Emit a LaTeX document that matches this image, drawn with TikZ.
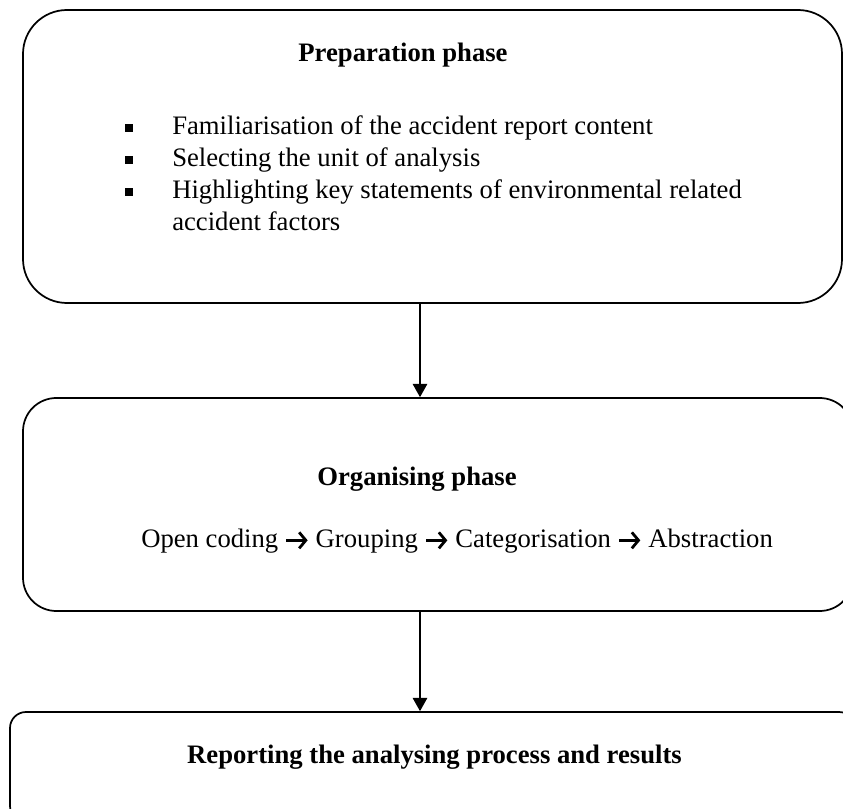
\documentclass[tikz,border=0pt]{standalone}
\usepackage{fontspec}
\setmainfont{Liberation Serif}
\usetikzlibrary{arrows.meta}
\tikzset{
  box/.style={draw, line width=1.3pt, inner sep=0pt},
  txt/.style={anchor=base west, inner sep=0pt, font=\fontsize{20}{24}\selectfont},
  btxt/.style={anchor=base, inner sep=0pt, font=\fontsize{20}{24}\selectfont\bfseries},
  bul/.style={fill, minimum size=6pt, inner sep=0pt},
  flow/.style={line width=0.8pt, -{Triangle[width=11pt,length=10pt]}}
}
\newcommand{\arr}{\tikz[baseline=-5pt,x=1pt,y=1pt]\draw[line width=2.1pt,line cap=butt,-{Straight Barb[length=5pt,width=12pt,line width=2.1pt]}] (0,0)--(16,0);}
\begin{document}
\begin{tikzpicture}[x=0.75pt,y=-0.75pt]
\useasboundingbox (0,0) rectangle (843,809);
\clip (0,0) rectangle (843,809);
% boxes
\node[box, rounded corners=33pt, minimum width=819*0.75pt, minimum height=293*0.75pt] (b1) at (432.5,156.5) {};
\node[box, rounded corners=25pt, minimum width=830*0.75pt, minimum height=213*0.75pt] (b2) at (438,504.5) {};
\node[box, rounded corners=12pt, minimum width=845*0.75pt, minimum height=110*0.75pt] (b3) at (432.5,767) {};
% texts box 1
\node[btxt] (t1) at (403,62) {Preparation phase};
\node[bul] (k1) at (129,128) {};
\node[bul] (k2) at (129,160) {};
\node[bul] (k3) at (129,192) {};
\node[txt] (l1) at (172,135) {Familiarisation of the accident report content};
\node[txt] (l2) at (172,167) {Selecting the unit of analysis};
\node[txt] (l3) at (172,199) {Highlighting key statements of environmental related};
\node[txt] (l4) at (172,231) {accident factors};
% texts box 2
\node[btxt] (t2) at (417,485) {Organising phase};
\node[txt] (o1) at (141,547) {Open coding \arr{} Grouping \arr{} Categorisation \arr{} Abstraction};
% texts box 3
\node[btxt] (t3) at (434.5,763) {Reporting the analysing process and results};
% connectors
\coordinate (ax) at (420,0);
\draw[flow] (b1.south -| ax) -- (b2.north -| ax);
\draw[flow] (b2.south -| ax) -- (b3.north -| ax);
\end{tikzpicture}
\end{document}
